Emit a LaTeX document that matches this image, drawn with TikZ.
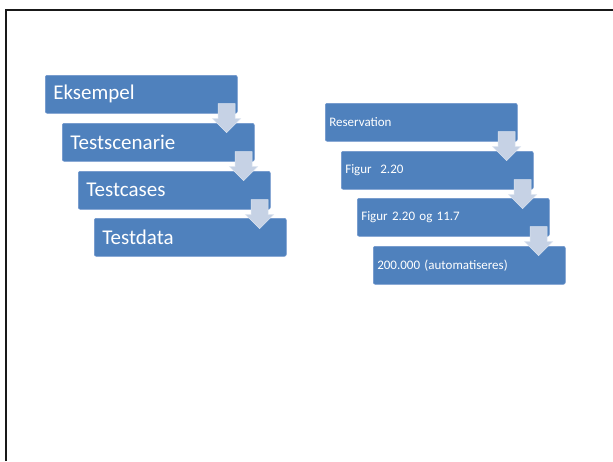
\documentclass[tikz,border=0pt]{standalone}
\usepackage{fontspec}
\setmainfont{Carlito}
\usetikzlibrary{calc}
\definecolor{boxblue}{HTML}{4F81BD}
\definecolor{boxedge}{HTML}{6F96CC}
\definecolor{arrfill}{HTML}{C6D2E5}
\definecolor{arredge}{HTML}{DCE4F0}
\tikzset{
  bigbox/.style={anchor=north west, fill=boxblue, draw=boxedge, line width=0.6pt, rounded corners=2pt,
    minimum height=38pt, inner xsep=8pt, inner ysep=0pt, text width=176pt, align=left,
    text=white, font=\fontsize{21}{25}\selectfont},
  smallbox/.style={anchor=north west, fill=boxblue, draw=boxedge, line width=0.6pt, rounded corners=2pt,
    minimum height=38pt, inner xsep=4pt, inner ysep=0pt, text width=184pt, align=left,
    text=white, font=\fontsize{13}{16}\selectfont},
  downarr/.style={fill=arrfill, draw=arredge, line width=0.5pt}
}
\newcommand\DownArr[1]{%
  \draw[downarr, shift={(#1)}] (-8.5,0) -- (8.5,0) -- (8.5,15) -- (14,15) -- (0,29) -- (-14,15) -- (-8.5,15) -- cycle;}
\begin{document}
\begin{tikzpicture}[x=1pt,y=-1pt]
\useasboundingbox (0,0) rectangle (613,461);
\fill[white] (0,0) rectangle (613,461);
\draw[line width=2pt, color=black!90] (5.5,461) -- (5.5,10) -- (613,10);

% left group
\node[bigbox] (l1) at (45,75) {Eksempel};
\node[bigbox] (l2) at (62,123) {Testscenarie};
\node[bigbox] (l3) at (78,171) {Testcases};
\node[bigbox] (l4) at (94,218) {Testdata};

% right group
\node[smallbox] (r1) at (325,103) {Reservation};
\node[smallbox] (r2) at (341,151) {Figur\ \ 2.20};
\node[smallbox] (r3) at (357,198) {Figur 2.20 og 11.7};
\node[smallbox] (r4) at (373,246) {200.000 (automatiseres)};

% arrow anchors
\coordinate (al1) at ($(l1.south east)+(-11,-10)$);
\coordinate (al2) at ($(l2.south east)+(-11,-10)$);
\coordinate (al3) at ($(l3.south east)+(-11,-10)$);
\coordinate (ar1) at ($(r1.south east)+(-11,-10)$);
\coordinate (ar2) at ($(r2.south east)+(-11,-10)$);
\coordinate (ar3) at ($(r3.south east)+(-11,-10)$);
\DownArr{al1}
\DownArr{al2}
\DownArr{al3}
\DownArr{ar1}
\DownArr{ar2}
\DownArr{ar3}
\end{tikzpicture}
\end{document}
